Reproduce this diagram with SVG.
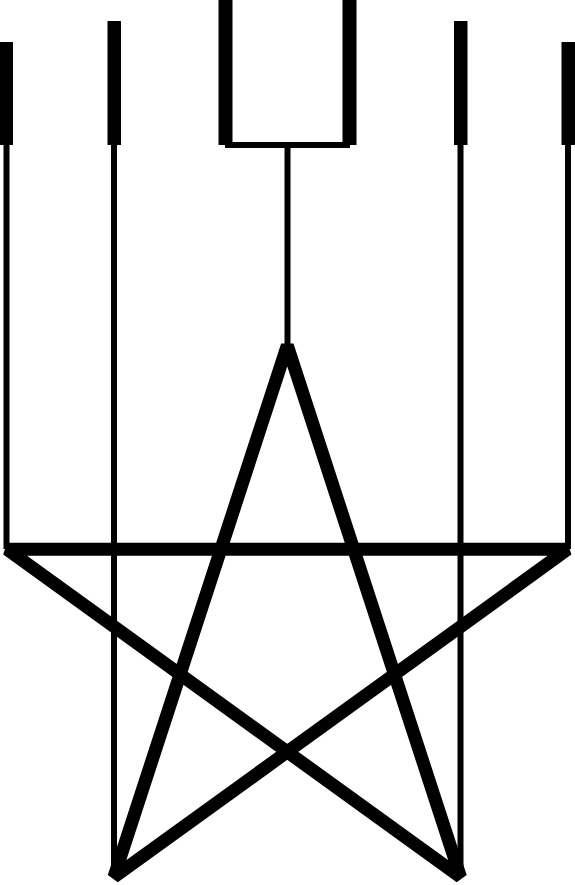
<svg xmlns="http://www.w3.org/2000/svg" width="575" height="885" viewBox="0 0 575 885">
<style>
.bar{fill:#000;}
.wire{stroke:#000;stroke-width:6;fill:none;}
.star{stroke:#000;stroke-width:13;fill:none;stroke-linejoin:bevel;}
</style>
<rect width="575" height="885" fill="#fff"/>
<g id="connectors">
<line class="wire" x1="6.5" y1="145" x2="6.5" y2="549"/>
<line class="wire" x1="114" y1="145" x2="114" y2="877"/>
<line class="wire" x1="287.5" y1="147" x2="287.5" y2="347"/>
<line class="wire" x1="460.5" y1="145" x2="460.5" y2="877"/>
<line class="wire" x1="568" y1="145" x2="568" y2="549"/>
</g>
<g id="bar1"><rect class="bar" x="0" y="42" width="13" height="103"/></g>
<g id="bar2"><rect class="bar" x="107.5" y="21" width="13.5" height="124"/></g>
<g id="ubox">
<rect class="bar" x="218.5" y="0" width="14" height="145"/>
<rect class="bar" x="342.5" y="0" width="14" height="145"/>
<line class="wire" x1="225" y1="145" x2="350" y2="145"/>
</g>
<g id="bar4"><rect class="bar" x="454" y="21" width="13.5" height="124"/></g>
<g id="bar5"><rect class="bar" x="561.5" y="42" width="13.5" height="103"/></g>
<g id="star">
<polygon class="star" points="287.3,345.5 460.5,877 7,549.3 567.6,549.3 114,877"/>
</g>
</svg>
